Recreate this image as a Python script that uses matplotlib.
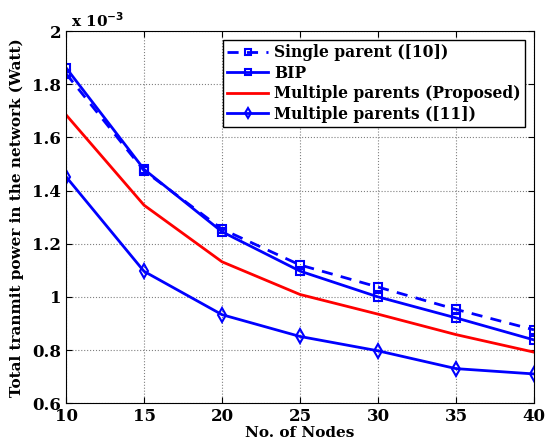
import numpy as np
import matplotlib
matplotlib.use('Agg')
import matplotlib.pyplot as plt
from matplotlib.ticker import FuncFormatter

nodes = [10, 15, 20, 25, 30, 35, 40]
# values in units of 1e-3 Watt
single_parent = [1.84, 1.475, 1.255, 1.12, 1.037, 0.953, 0.876]
bip = [1.862, 1.48, 1.245, 1.097, 1.0, 0.921, 0.838]
multi_proposed = [1.685, 1.345, 1.132, 1.009, 0.935, 0.858, 0.792]
multi_11 = [1.452, 1.096, 0.933, 0.851, 0.797, 0.73, 0.71]

plt.rcParams['font.family'] = 'DejaVu Serif'
plt.rcParams['font.weight'] = 'bold'

fig = plt.figure(figsize=(5.46, 4.45), dpi=100)
ax = fig.add_axes([0.121, 0.094, 0.857, 0.836])

scale = 1e-3
ax.plot(nodes, np.array(single_parent) * scale, '--s', color='blue', lw=2,
        ms=6, mfc='none', mew=1.5, dashes=(4, 3), label='Single parent ([10])')
ax.plot(nodes, np.array(bip) * scale, '-s', color='blue', lw=2,
        ms=6, mfc='none', mew=1.5, label='BIP')
ax.plot(nodes, np.array(multi_proposed) * scale, '-', color='red', lw=2,
        label='Multiple parents (Proposed)')
ax.plot(nodes, np.array(multi_11) * scale, '-d', color='blue', lw=2,
        ms=7, mfc='none', mew=1.5, label='Multiple parents ([11])')

ax.set_xlim(10, 40)
ax.set_ylim(0.6e-3, 2e-3)
ax.set_xticks(nodes)
ax.set_yticks(np.arange(0.6, 2.01, 0.2) * scale)
ax.yaxis.set_major_formatter(FuncFormatter(lambda v, p: f'{v * 1e3:g}'))
ax.tick_params(direction='in', top=True, right=True, labelsize=12, length=4)
for lab in ax.get_xticklabels() + ax.get_yticklabels():
    lab.set_fontweight('bold')
ax.grid(True, linestyle=':', color='0.5', lw=0.8)
ax.text(0.01, 1.012, r'x 10$^{-3}$', transform=ax.transAxes, fontsize=11,
        fontweight='bold')

ax.set_xlabel('No. of Nodes', fontsize=11, fontweight='bold', labelpad=1)
ax.set_ylabel('Total tranmit power in the network (Watt)', fontsize=11,
              fontweight='bold', labelpad=6)

leg = ax.legend(loc='upper right', fontsize=11.2, fancybox=False,
                edgecolor='black', framealpha=1, handlelength=2.6,
                borderaxespad=0.55, labelspacing=0.22, handletextpad=0.4,
                borderpad=0.3, markerscale=0.75)
leg.get_frame().set_linewidth(1.0)
for t in leg.get_texts():
    t.set_fontweight('bold')

fig.savefig('out.png', dpi=100)
